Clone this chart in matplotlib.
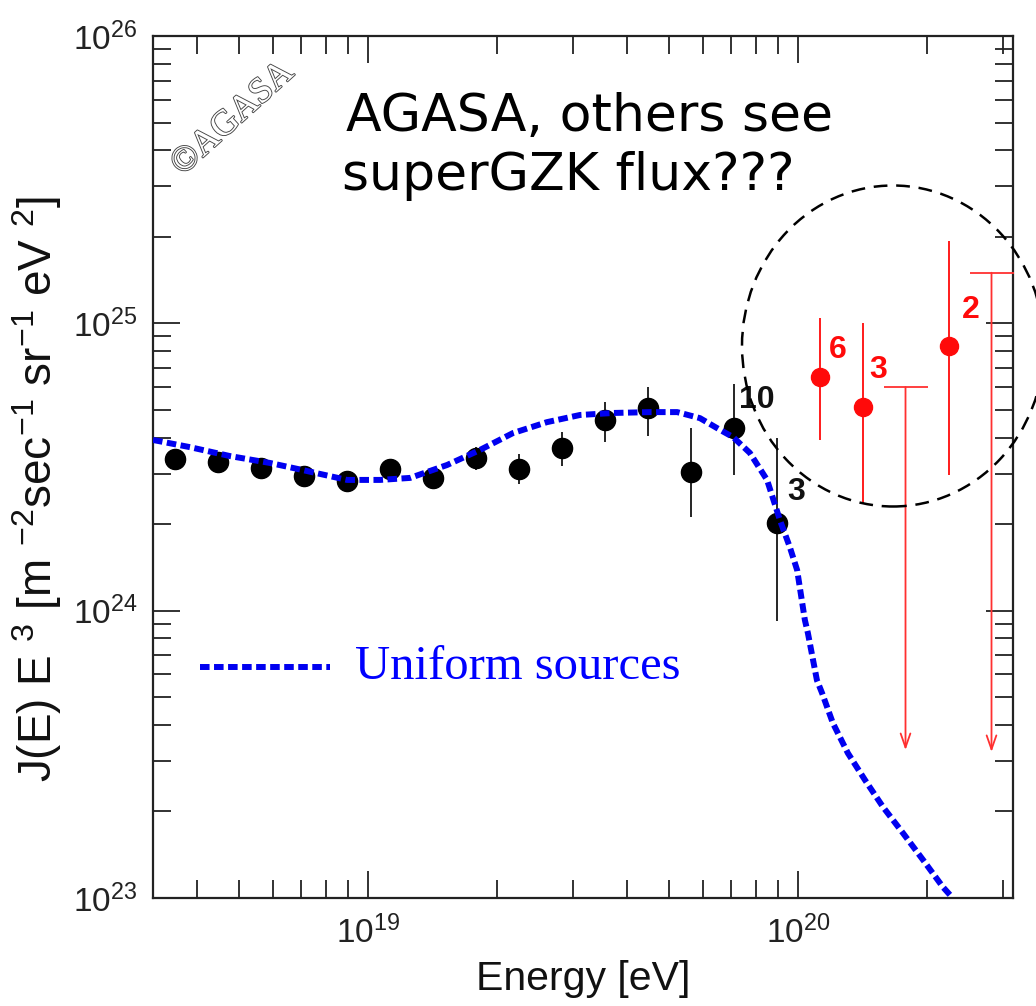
import numpy as np
import matplotlib
matplotlib.use("Agg")
import matplotlib.pyplot as plt
from matplotlib.patches import Ellipse
from matplotlib import patheffects
from matplotlib.ticker import LogLocator, NullFormatter

plt.rcParams['font.family'] = ['Liberation Sans', 'DejaVu Sans']
plt.rcParams['mathtext.fontset'] = 'custom'
plt.rcParams['mathtext.rm'] = 'Liberation Sans'
plt.rcParams['mathtext.it'] = 'Liberation Sans:italic'
plt.rcParams['mathtext.bf'] = 'Liberation Sans:bold'

# ---------------- data ----------------
# AGASA black points (log10 E [eV]) and J E^3 in units of 1e24
black_logE = [18.55, 18.65, 18.75, 18.85, 18.95, 19.05, 19.15, 19.25, 19.35, 19.45,
              19.55, 19.65, 19.75, 19.85, 19.95]
black_J = [3.37, 3.29, 3.13, 2.94, 2.82, 3.11, 2.90, 3.40, 3.11, 3.68,
           4.60, 5.07, 3.03, 4.33, 2.02]
black_Jhi = [3.62, 3.52, 3.36, 3.16, 3.05, 3.33, 3.14, 3.71, 3.51, 4.19,
             5.32, 6.00, 4.33, 6.15, 3.99]
black_Jlo = [3.14, 3.06, 2.91, 2.73, 2.60, 2.89, 2.68, 3.08, 2.76, 3.18,
             3.86, 4.06, 2.12, 2.96, 0.92]

# red points above 1e20
red_logE = [20.05, 20.15, 20.35]
red_J = [6.50, 5.12, 8.34]
red_Jhi = [10.4, 10.0, 19.3]
red_Jlo = [3.93, 2.37, 2.96]
red_counts = ['6', '3', '2']

# upper limits
ul_logE = [20.25, 20.45]
ul_J = [6.0, 15.0]
ul_tip = [0.327, 0.322]

# count labels for black points
black_count_idx = [13, 14]
black_counts = ['10', '3']

# uniform sources curve (log10 E, log10 J E^3)
curve_logE = [18.500, 18.586, 18.679, 18.772, 18.849, 18.951, 19.028, 19.098, 19.184,
              19.260, 19.337, 19.416, 19.493, 19.570, 19.656, 19.719, 19.772, 19.819,
              19.849, 19.888, 19.928, 19.958, 19.981, 19.998, 20.016, 20.023, 20.035,
              20.044, 20.056, 20.081, 20.116, 20.156, 20.198, 20.244, 20.291, 20.337,
              20.358]
curve_logJ = [24.594, 24.569, 24.538, 24.514, 24.489, 24.455, 24.455, 24.462, 24.507,
              24.559, 24.618, 24.656, 24.681, 24.688, 24.691, 24.691, 24.670, 24.629,
              24.604, 24.549, 24.455, 24.315, 24.221, 24.141, 23.967, 23.922, 23.828,
              23.758, 23.713, 23.609, 23.504, 23.410, 23.316, 23.226, 23.132, 23.038,
              23.003]

xticks = [1e19, 1e20]
xticklabels = [r'$10^{19}$', r'$10^{20}$']
yticks = [1e23, 1e24, 1e25, 1e26]
yticklabels = [r'$10^{23}$', r'$10^{24}$', r'$10^{25}$', r'$10^{26}$']

# ---------------- figure ----------------
fig = plt.figure(figsize=(10.36, 10.06), dpi=100)
ax = fig.add_axes([0.1477, 0.1074, 0.8301, 0.8568])
ax.set_xscale('log')
ax.set_yscale('log')
ax.set_xlim(10**18.5, 10**20.5)
ax.set_ylim(1e23, 1e26)

scale = 1e24
bE = 10**np.array(black_logE)
bJ = np.array(black_J) * scale
berr = [bJ - np.array(black_Jlo) * scale, np.array(black_Jhi) * scale - bJ]
ax.errorbar(bE, bJ, yerr=berr, fmt='o', color='black', ms=14.5, elinewidth=1.2,
            capsize=0, zorder=3)

rE = 10**np.array(red_logE)
rJ = np.array(red_J) * scale
rerr = [rJ - np.array(red_Jlo) * scale, np.array(red_Jhi) * scale - rJ]
ax.errorbar(rE, rJ, yerr=rerr, fmt='o', color='#ff0a0a', ms=13, elinewidth=1.3,
            capsize=0, zorder=3)

uE = 10**np.array(ul_logE)
uJ = np.array(ul_J) * scale
uT = np.array(ul_tip) * scale
ax.plot(uE, uJ, ls='none', marker='_', ms=31, mew=1.3, color='#ff3030', zorder=3)
for e, j, t in zip(uE, uJ, uT):
    ax.annotate('', xy=(e, t), xytext=(e, j),
                arrowprops=dict(arrowstyle='->,head_length=1.0,head_width=0.35',
                                color='#ff3030', lw=1.3, shrinkA=0, shrinkB=0),
                zorder=3)

# curve
ax.plot(10**np.array(curve_logE), 10**np.array(curve_logJ), color='#0000f0', lw=4.3,
        dashes=(1.6, 0.75), zorder=4, solid_capstyle='butt', dash_capstyle='butt')

# count labels
black_offsets = [(17, 20), (14, 22)]
for idx, lab, off in zip(black_count_idx, black_counts, black_offsets):
    ax.annotate(lab, xy=(bE[idx], bJ[idx]), xytext=off, textcoords='offset points',
                ha='center', va='center', fontsize=23, fontweight='bold', color='#111111',
                zorder=5)
red_offsets = [(13, 19.5), (11, 26.5), (16, 26)]
for e, j, lab, off in zip(rE, rJ, red_counts, red_offsets):
    ax.annotate(lab, xy=(e, j), xytext=off, textcoords='offset points',
                ha='center', va='center', fontsize=23, fontweight='bold', color='#ff0a0a',
                zorder=5)

# ticks
ax.set_xticks(xticks)
ax.set_xticklabels(xticklabels)
ax.set_yticks(yticks)
ax.set_yticklabels(yticklabels)
ax.xaxis.set_minor_locator(LogLocator(base=10, subs=np.arange(2, 10)))
ax.yaxis.set_minor_locator(LogLocator(base=10, subs=np.arange(2, 10)))
ax.xaxis.set_minor_formatter(NullFormatter())
ax.yaxis.set_minor_formatter(NullFormatter())
ax.tick_params(which='both', direction='in', top=True, right=True, color='#222222')
ax.tick_params(which='major', length=19.5, width=1.3, labelsize=24, labelcolor='#222222')
ax.tick_params(which='minor', length=13, width=1.3)
ax.tick_params(axis='x', which='major', pad=13)
ax.tick_params(axis='y', which='major', pad=11)
for sp in ax.spines.values():
    sp.set_linewidth(1.6)
    sp.set_color('#222222')

ax.set_xlabel('Energy [eV]', fontsize=29.5, color='#111111')
ax.xaxis.set_label_coords(0.5, -0.072)
ax.set_ylabel(r'J(E) E $^{3}$ [m $^{-2}$sec$^{-1}$ sr$^{-1}$ eV $^{2}$]', fontsize=33,
              color='#111111')
ax.yaxis.set_label_coords(-0.103, 0.474)

# legend (manual, in axes)
ax.plot([0.055, 0.206], [0.268, 0.268], transform=ax.transAxes, color='#0000f0', lw=4.3,
        dashes=(1.6, 0.75), dash_capstyle='butt')
ax.text(0.235, 0.268, 'Uniform sources', transform=ax.transAxes, fontsize=35,
        family='Liberation Serif', color='#0000ff', va='center', ha='left')

# comment text
fig.text(346 / 1036, 1 - 131 / 1006, 'AGASA, others see', fontsize=37.5,
         family='DejaVu Sans', va='baseline', ha='left', color='black')
fig.text(342 / 1036, 1 - 190 / 1006, 'superGZK flux???', fontsize=37.5,
         family='DejaVu Sans', va='baseline', ha='left', color='black')

# copyright watermark
fig.text(233 / 1036, 1 - 119 / 1006, '\u00a9AGASA', fontsize=26, family='Liberation Serif',
         rotation=42, ha='center', va='center', rotation_mode='anchor', color='white',
         path_effects=[patheffects.withStroke(linewidth=1.3, foreground='#444444')])

# dashed circle
ell = Ellipse((893 / 1036, 1 - 346 / 1006), 302 / 1036, 321 / 1006,
              transform=fig.transFigure, fill=False, ls=(0, (5.5, 3.5)), lw=1.8,
              edgecolor='black', clip_on=False, zorder=10)
fig.add_artist(ell)

fig.savefig('out.png', dpi=100)
